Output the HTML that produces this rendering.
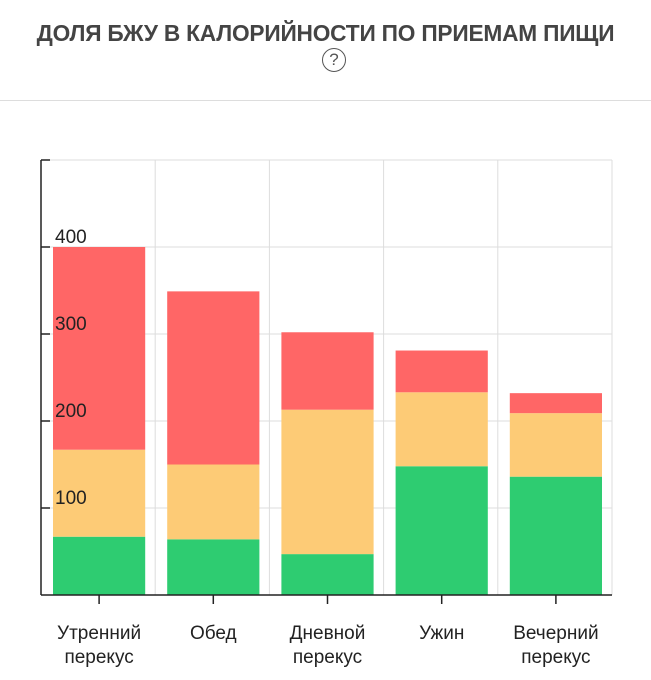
<!DOCTYPE html>
<html><head><meta charset="utf-8"><style>
body{margin:0;width:651px;height:680px;background:#fff;font-family:"Liberation Sans",sans-serif;overflow:hidden}
</style></head><body>
<div style="position:absolute;left:0;width:651px;top:20px;text-align:center;font-size:22.7px;font-weight:bold;color:#444;letter-spacing:-0.2px">ДОЛЯ БЖУ В КАЛОРИЙНОСТИ ПО ПРИЕМАМ ПИЩИ</div>
<div style="position:absolute;left:322px;top:48px;width:22px;height:22px;border:1.5px solid #555;border-radius:50%;text-align:center;font-size:17px;line-height:22px;color:#555">?</div>
<div style="position:absolute;left:0;top:100px;width:651px;height:1px;background:#ddd"></div>
<svg id="chart" width="651" height="680" style="position:absolute;left:0;top:0"></svg>
<script>
const categories=[["Утренний","перекус"],["Обед"],["Дневной","перекус"],["Ужин"],["Вечерний","перекус"]];
const carbs=[67,64,47,148,136];
const fats=[100,86,166,85,73];
const proteins=[233,199,89,48,23];
const ticks=[100,200,300,400,500];
const tickLabels=["100","200","300","400",""];
const NS="http://www.w3.org/2000/svg",svg=document.getElementById('chart');
const x0=41,x1=612,y0=595,yMax=500,yTop=160;
const y=v=>y0-(v/yMax)*(y0-yTop);
const bw=(x1-x0)/categories.length;
function mk(t,a){const e=document.createElementNS(NS,t);for(const k in a)e.setAttribute(k,a[k]);svg.appendChild(e);return e;}
ticks.forEach((t,i)=>{
 const g=mk('line',{x1:x0,x2:x1,y1:y(t),y2:y(t),stroke:'#ddd','stroke-width':1});
 
 
 const tk=mk('line',{x1:x0,x2:x0+9,y1:y(t),y2:y(t),stroke:'#222','stroke-width':1.5});
 
 
});
for(let i=1;i<=categories.length;i++){
 const g=mk('line',{x1:x0+bw*i,x2:x0+bw*i,y1:yTop,y2:y0,stroke:'#ddd','stroke-width':1});
 
 
}
const series=[[carbs,'#2ecc71','carbs'],[fats,'#fdcb76','fats'],[proteins,'#ff6666','proteins']];
categories.forEach((c,i)=>{
 let acc=0;const bx=x0+bw*i+12,w=bw-22;
 series.forEach(([arr,col,nm])=>{
  const r=mk('rect',{x:bx,y:y(acc+arr[i]),width:w,height:y(acc)-y(acc+arr[i]),fill:col});
  
  
  acc+=arr[i];
 });
 const cx=bx+w/2;
 const tk=mk('line',{x1:cx,x2:cx,y1:y0,y2:y0+9,stroke:'#222','stroke-width':1.5});
 
 
 c.forEach((ln,j)=>{
  const t=mk('text',{x:cx,y:639+j*24,'text-anchor':'middle','font-size':19,fill:'#222'});
  t.textContent=ln;
  
  
 });
});
ticks.forEach((t,i)=>{
 const l=mk('text',{x:55,y:y(t)-4,'font-size':19,fill:'#222'});
 l.textContent=tickLabels[i];
 
 
});
const ax=mk('line',{x1:x0,x2:x0,y1:yTop,y2:y0,stroke:'#222','stroke-width':1.5});


const bx=mk('line',{x1:x0,x2:x1,y1:y0,y2:y0,stroke:'#222','stroke-width':1.5});


</script>
</body></html>
